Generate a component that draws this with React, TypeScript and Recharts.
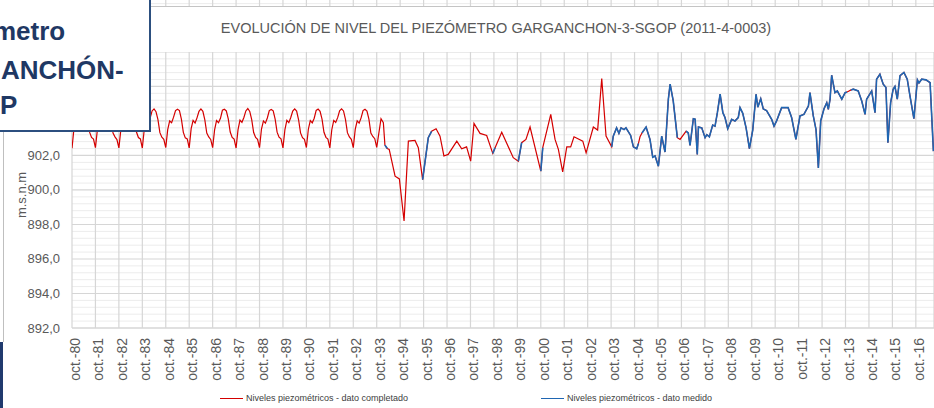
import React from 'react';
import { LineChart, Line, XAxis, YAxis, CartesianGrid, Legend } from 'recharts';

const FONT = "'Liberation Sans', Arial, sans-serif";

const chartTitle = 'EVOLUCIÓN DE NIVEL DEL PIEZÓMETRO GARGANCHON-3-SGOP (2011-4-0003)';
const seriesNames = ['Niveles piezométricos - dato completado', 'Niveles piezométricos - dato medido'];
const seriesColors = ['#D40000', '#1F66B2'];

// x ticks: months since oct-1980
const tickMonths = [0, 12, 24, 36, 48, 60, 72, 84, 96, 108, 120, 132, 144, 156, 168, 180, 192, 204, 216, 228, 240, 252, 264, 276, 288, 300, 312, 324, 336, 348, 360, 372, 384, 396, 408, 420, 432];
const tickLabels = ['oct.-80', 'oct.-81', 'oct.-82', 'oct.-83', 'oct.-84', 'oct.-85', 'oct.-86', 'oct.-87', 'oct.-88', 'oct.-89', 'oct.-90', 'oct.-91', 'oct.-92', 'oct.-93', 'oct.-94', 'oct.-95', 'oct.-96', 'oct.-97', 'oct.-98', 'oct.-99', 'oct.-00', 'oct.-01', 'oct.-02', 'oct.-03', 'oct.-04', 'oct.-05', 'oct.-06', 'oct.-07', 'oct.-08', 'oct.-09', 'oct.-10', 'oct.-11', 'oct.-12', 'oct.-13', 'oct.-14', 'oct.-15', 'oct.-16'];
const yTicks = [892, 894, 896, 898, 900, 902, 904, 906, 908, 910];

// monthly levels oct-1980 .. sep-1993 (dato completado)
const earlyLevels = [
  902.42, 903.55, 904.02, 903.9, 904.18, 904.6, 904.68, 904.56, 904.1, 903.35, 903.05, 902.95,
  902.45, 903.5, 904.05, 903.88, 904.15, 904.55, 904.72, 904.6, 904.05, 903.3, 903.08, 902.92,
  902.44, 903.48, 904.0, 903.92, 904.2, 904.62, 904.66, 904.58, 904.12, 903.36, 903.04, 902.96,
  902.43, 903.52, 904.04, 903.86, 904.16, 904.58, 904.7, 904.54, 904.08, 903.32, 903.06, 902.94,
  902.46, 903.5, 904.0, 903.9, 904.22, 904.6, 904.68, 904.6, 904.1, 903.34, 903.02, 902.96,
  902.44, 903.55, 904.03, 903.88, 904.18, 904.56, 904.7, 904.56, 904.06, 903.3, 903.07, 902.93,
  902.45, 903.48, 904.02, 903.9, 904.15, 904.62, 904.68, 904.58, 904.12, 903.36, 903.05, 902.95,
  902.43, 903.5, 904.05, 903.92, 904.2, 904.58, 904.72, 904.55, 904.08, 903.33, 903.04, 902.94,
  902.45, 903.53, 904.0, 903.87, 904.17, 904.6, 904.67, 904.59, 904.1, 903.35, 903.06, 902.96,
  902.44, 903.5, 904.04, 903.9, 904.2, 904.57, 904.7, 904.57, 904.07, 903.31, 903.03, 902.93,
  902.46, 903.52, 904.02, 903.89, 904.16, 904.61, 904.69, 904.56, 904.11, 903.34, 903.05, 902.95,
  902.44, 903.49, 904.03, 903.91, 904.19, 904.59, 904.7, 904.58, 904.09, 903.32, 903.07, 902.94,
  902.45, 903.51, 904.01, 903.88, 904.18, 904.6, 904.68, 904.57, 904.1, 903.3, 903.1, 902.97,
];

// later readings: month index (since oct-1980), level, measured flag
const lateMonths = [
  156, 158.2, 159.4, 160.2, 161.4, 162.4, 165.4, 167.6, 170, 172.2, 175.6, 177.3, 179.5, 182.4, 184.1, 186.4, 188.4, 190.4, 192.6, 197,
  199.5, 202, 204.1, 205.8, 208.9, 212.3, 215.4, 216.6, 220, 225.9, 228.5, 230.2, 232.4, 234.5, 240, 241, 245.1, 247.3, 249, 251.2,
  253.3, 255.3, 257, 261.5, 263.2, 266.9, 269.1, 271.2, 273.4, 276.3, 277.1, 278.8, 280, 281.1, 282.6, 283.6, 286, 287.4, 289.1, 290,
  290.8, 291.8, 293.9, 295.9, 297.3, 298.5, 300.2, 301.9, 303.6, 305.3, 306.2, 307.8, 309.9, 311.3, 314.4, 315.5, 316.4, 318.1, 319, 320.1, 320.7, 322.4,
  324.1, 325, 326.3, 328, 329.2, 330.4, 331.8, 333.2, 334.3, 335.7, 337.7, 339.4, 341.1, 342, 343.4, 345.1, 346.8, 348.5, 350.2, 351.1,
  352.6, 353.9, 355.6, 358.2, 359.4, 360.7, 363.3, 366.6, 368.4, 370.6, 372.7, 374.7, 377, 377.8, 379.5, 380.9, 382.1, 383.3, 385, 386.4,
  387.2, 388.1, 388.9, 390.6, 391.8, 394.1, 395.8, 396.8, 397.8, 398.8, 400, 402.5, 404.3, 406, 406.8, 409.4, 411.1, 411.9, 413.6, 415.3, 416.7, 417.7,
  419.1, 420.4, 421.3, 422.5, 423.9, 425.9, 427.6, 429, 431, 432.8, 433.6, 435, 437.2, 439.3, 441,
];
const lateLevels = [
  902.47, 904.13, 903.9, 902.6, 902.4, 902.35, 900.8, 900.64, 898.2, 902.83, 902.87, 902.45, 900.6, 903.03, 903.4, 903.55, 903.12, 901.97, 902.06, 902.83,
  902.39, 902.5, 901.67, 903.86, 903.28, 903.16, 902.12, 902.45, 903.35, 901.87, 901.67, 902.74, 902.93, 903.65, 901.09, 902.45, 904.38, 902.93, 902.35, 901.05,
  902.5, 902.5, 903.08, 902.83, 902.15, 903.65, 903.47, 906.46, 903.12, 902.5, 903.12, 903.6, 903.28, 903.6, 903.5, 903.6, 903.16, 902.5, 902.39, 902.7,
  903.08, 903.3, 903.65, 902.93, 901.9, 901.97, 901.38, 903.12, 902.2, 905.26, 906.13, 905.16, 903.03, 902.93, 903.41, 903.3, 902.58, 904.13, 904.1, 902.06, 903.65, 903.6,
  903.03, 903.2, 903.08, 903.76, 903.7, 904.48, 905.55, 904.48, 904.2, 903.55, 904.09, 904.0, 904.2, 904.77, 904.44, 903.6, 902.39, 903.47, 905.55, 904.8,
  905.29, 904.7, 904.6, 904.09, 903.7, 904.0, 904.77, 904.77, 904.2, 902.93, 904.29, 904.38, 904.86, 905.64, 904.29, 903.5, 901.28, 904.0, 904.71, 905.06,
  904.67, 905.26, 906.65, 905.64, 905.74, 905.26, 905.64, 905.68, 905.74, 905.8, 905.84, 905.74, 905.16, 904.38, 905.26, 905.74, 904.48, 906.42, 906.71, 906.13, 905.94, 902.74,
  905.07, 905.84, 906.0, 905.26, 906.62, 906.81, 906.42, 905.45, 904.13, 906.38, 906.2, 906.42, 906.38, 906.22, 902.25,
];
const lateMeasured = [
  0, 0, 0, 1, 1, 0, 0, 0, 0, 0, 0, 0, 1, 1, 1, 0, 0, 0, 0, 0,
  0, 0, 0, 0, 0, 0, 1, 1, 0, 0, 1, 1, 0, 0, 1, 1, 0, 0, 0, 0,
  0, 0, 0, 0, 0, 0, 0, 0, 0, 1, 1, 1, 1, 1, 1, 1, 1, 1, 1, 1,
  0, 1, 1, 1, 1, 1, 1, 1, 1, 1, 1, 1, 1, 0, 1, 1, 1, 1, 1, 1, 1, 1,
  1, 1, 1, 1, 1, 1, 1, 1, 1, 1, 1, 1, 1, 1, 1, 1, 1, 1, 1, 1,
  1, 1, 1, 1, 1, 1, 1, 1, 1, 1, 1, 1, 1, 1, 1, 1, 1, 1, 1, 1,
  1, 1, 1, 1, 1, 1, 1, 1, 0, 1, 1, 1, 1, 1, 1, 1, 1, 1, 1, 1, 1, 1,
  1, 1, 1, 1, 1, 1, 1, 1, 1, 1, 1, 1, 1, 1, 1,
];

type Row = { m: number; red: number; blue: number | null };
const rows: Row[] = [
  ...earlyLevels.map((v, i) => ({ m: i, red: v, blue: null })),
  ...lateMonths.map((m, i) => ({ m, red: lateLevels[i], blue: lateMeasured[i] ? lateLevels[i] : null })),
];

const Y_MIN = 892;
const Y_MAX = 911.01;
const minorValues: number[] = [];
for (let k = 1; k * 0.4 + Y_MIN < Y_MAX; k++) {
  if (k % 5 !== 0) minorValues.push(+(Y_MIN + k * 0.4).toFixed(2));
}

const XTick = (props: any) => {
  const { x, y, index } = props;
  const tx = x + 3;
  const ty = y + 2;
  return (
    <text
      x={tx}
      y={ty}
      transform={`rotate(-90, ${tx}, ${ty})`}
      textAnchor="end"
      dominantBaseline="central"
      fontSize={14}
      fontFamily={FONT}
      fill="#595959"
    >
      {tickLabels[index]}
    </text>
  );
};

// labels above 902 are hidden behind the slide text box in the reference
const YTick = (props: any) => {
  const { x, y, payload } = props;
  if (payload.value > 902) return null;
  return (
    <text x={x} y={y} textAnchor="end" dominantBaseline="central" fontSize={13} fontFamily={FONT} fill="#595959">
      {payload.value.toFixed(1).replace('.', ',')}
    </text>
  );
};

const legendX = [220, 541];
const LegendContent = (props: any) => {
  const payload = props.payload || [];
  return (
    <div style={{ position: 'relative', width: 934, height: 20, fontFamily: FONT }}>
      {payload.map((p: any, i: number) => (
        <div key={i} style={{ position: 'absolute', left: legendX[i], top: 0, height: 20, display: 'flex', alignItems: 'center' }}>
          <div style={{ width: 23, height: 0, borderTop: `1.5px solid ${p.color}`, marginRight: 3 }} />
          <span style={{ fontSize: 9, color: '#404040', whiteSpace: 'nowrap' }}>{p.value}</span>
        </div>
      ))}
    </div>
  );
};

export default function App() {
  return (
    <div style={{ position: 'fixed', left: 0, top: 0, width: 934, height: 408, overflow: 'hidden', background: '#fff' }}>
      <LineChart width={934} height={408} data={rows} margin={{ top: 0, right: 0, bottom: 20, left: 0 }}>
        <CartesianGrid vertical={false} horizontalValues={minorValues} stroke="#ececec" strokeWidth={1} />
        <CartesianGrid horizontalValues={yTicks} stroke="#d6d6d6" strokeWidth={1.2} />
        <XAxis
          type="number"
          dataKey="m"
          domain={[0, 441.3]}
          ticks={tickMonths}
          interval={0}
          allowDataOverflow
          tick={<XTick />}
          tickLine={false}
          axisLine={{ stroke: '#d6d6d6' }}
          height={60}
        />
        <YAxis
          type="number"
          domain={[Y_MIN, Y_MAX]}
          ticks={yTicks}
          interval={0}
          allowDataOverflow
          width={72}
          axisLine={false}
          tickLine={false}
          tickMargin={6}
          tick={<YTick />}
          label={{
            content: () => (
              <text x={21} y={195} transform="rotate(-90, 21, 195)" textAnchor="middle" dominantBaseline="central" fontSize={13} fontFamily={FONT} fill="#595959">
                m.s.n.m
              </text>
            ),
          }}
        />
        <Legend
          verticalAlign="middle"
          layout="horizontal"
          content={<LegendContent />}
          wrapperStyle={{ left: 0, top: 388, width: 934, height: 20 }}
        />
        <Line
          name={seriesNames[0]}
          dataKey="red"
          stroke={seriesColors[0]}
          strokeWidth={1.2}
          dot={false}
          activeDot={false}
          type="linear"
          isAnimationActive={false}
        />
        <Line
          name={seriesNames[1]}
          dataKey="blue"
          stroke={seriesColors[1]}
          strokeWidth={1.6}
          dot={false}
          activeDot={false}
          type="linear"
          connectNulls={false}
          isAnimationActive={false}
        />
      </LineChart>

      {/* title band */}
      <div style={{ position: 'absolute', left: 0, top: 6, width: 934, height: 46, background: '#fff', borderTop: '1.5px solid #c4c4c4', boxSizing: 'border-box' }}>
        <div style={{ position: 'absolute', left: 496, top: 13, transform: 'translateX(-50%)', whiteSpace: 'nowrap', fontFamily: FONT, fontSize: 14.5, color: '#595959', lineHeight: '17px' }}>
          {chartTitle}
        </div>
      </div>

      {/* slide elements */}
      <div style={{ position: 'absolute', left: 3, top: 132, width: 1, height: 210, background: '#bfbfbf' }} />
      <div style={{ position: 'absolute', left: 0, top: 342, width: 3, height: 66, background: '#203A6E' }} />
      <div style={{ position: 'absolute', left: -3, top: -3, width: 154, height: 135, background: '#fff', border: '2px solid #2C4F7F', boxSizing: 'border-box', overflow: 'hidden' }}>
        {[
          { t: 'metro', l: -6, b: 41 },
          { t: 'ANCHÓN-', l: 2, b: 80 },
          { t: 'P', l: 1, b: 115 },
        ].map((r, i) => (
          <div key={i} style={{ position: 'absolute', left: r.l, top: r.b - 22, fontFamily: FONT, fontWeight: 700, fontSize: 26, lineHeight: '26px', color: '#1F3864', whiteSpace: 'nowrap' }}>
            {r.t}
          </div>
        ))}
      </div>
    </div>
  );
}
